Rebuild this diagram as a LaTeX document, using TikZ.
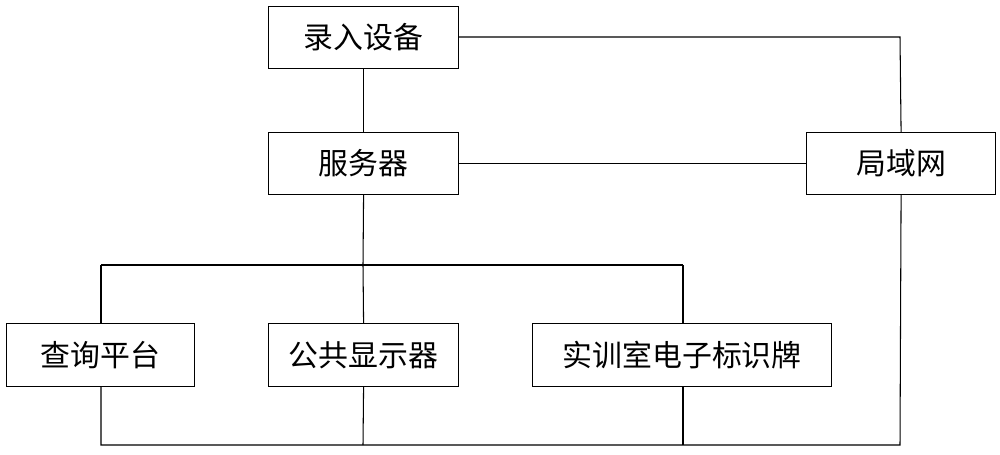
\documentclass[tikz,border=0pt]{standalone}
\usepackage{fontspec}
\newfontfamily\cjk{Noto Sans CJK SC}
\begin{document}
\begin{tikzpicture}[x=0.01cm,y=-0.01cm,line width=0.3pt,
  box/.style={draw,rectangle,minimum height=0.62cm,inner sep=0pt,font=\cjk\fontsize{8.5}{10}\selectfont,anchor=north west}]
\useasboundingbox (0,0) rectangle (1000,454);
\node[box,minimum width=1.9cm] (lr) at (268,6) {录入设备};
\node[box,minimum width=1.9cm] (fw) at (268,132) {服务器};
\node[box,minimum width=1.89cm] (jy) at (806,132) {局域网};
\node[box,minimum width=1.88cm,minimum height=0.63cm] (cx) at (6,323) {查询平台};
\node[box,minimum width=1.9cm,minimum height=0.63cm] (gg) at (268,323) {公共显示器};
\node[box,minimum width=2.99cm,minimum height=0.63cm] (sx) at (532,323) {实训室电子标识牌};
\coordinate (t) at (900,37);
\coordinate (b) at (900,445);
\draw (lr.east) -- (t -| lr.east) -- (t) -- (jy.north);
\draw (lr.south) -- (fw.north);
\draw (fw.east) -- (jy.west);
\draw (fw.south) -- (363,265);
\draw (101,265) -- (683,265);
\draw (101,265) -- (101,323);
\draw (683,265) -- (683,323);
\draw (363,265) -- (gg.north);
\draw (101,386) -- (101,445) -- (b) -- (jy.south);
\draw (gg.south) -- (363,445);
\draw (683,386) -- (683,445);
\end{tikzpicture}
\end{document}
